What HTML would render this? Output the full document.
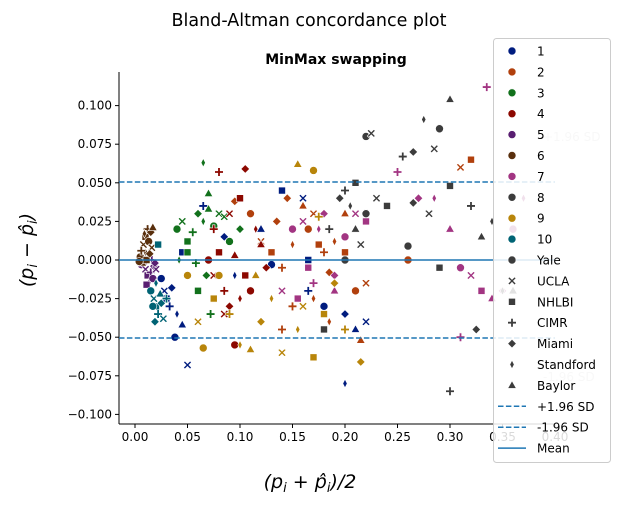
<!DOCTYPE html>
<html><head><meta charset="utf-8"><style>
body{margin:0;background:#fff;font-family:"Liberation Sans","DejaVu Sans",sans-serif}
svg text{font-family:"DejaVu Sans","Liberation Sans",sans-serif}
</style></head><body>
<svg id="c" width="618" height="500" xmlns="http://www.w3.org/2000/svg">
<text x="309" y="26" font-size="17.5" text-anchor="middle">Bland-Altman concordance plot</text>
<text x="336" y="64" font-size="14" font-weight="bold" text-anchor="middle">MinMax swapping</text>
<text transform="translate(33,250) rotate(-90)" font-size="19" text-anchor="middle" font-style="italic">(p<tspan font-size="13" dy="4">i</tspan><tspan dy="-4"> − p̂</tspan><tspan font-size="13" dy="4">i</tspan><tspan dy="-4">)</tspan></text>
<text x="310" y="488" font-size="19" text-anchor="middle" font-style="italic">(p<tspan font-size="13" dy="4">i</tspan><tspan dy="-4"> + p̂</tspan><tspan font-size="13" dy="4">i</tspan><tspan dy="-4">)/2</tspan></text>
<g id="plot"></g>
<g id="legend"></g>
</svg>
<script>
const groups=['1','2','3','4','5','6','7','8','9','10'];
const colors=['#001c7f','#b1400d','#12711c','#8c0800','#591e71','#592f0d','#a23582','#3c3c3c','#b8850a','#006374'];
const sites=['Yale','UCLA','NHLBI','CIMR','Miami','Standford','Baylor'];
const upperSD=0.0505, lowerSD=-0.0505, meanDiff=0.0;
const xTicks=[0,0.05,0.1,0.15,0.2,0.25,0.3,0.35,0.4];
const xTickLabels=['0.00','0.05','0.10','0.15','0.20','0.25','0.30','0.35','0.40'];
const yTicks=[0.1,0.075,0.05,0.025,0,-0.025,-0.05,-0.075,-0.1];
const yTickLabels=['0.100','0.075','0.050','0.025','0.000','−0.025','−0.050','−0.075','−0.100'];
const g1=[[0.025,-0.012],[0.028,-0.02],[0.03,-0.025],[0.033,-0.03],[0.035,-0.018],[0.04,-0.035],[0.045,-0.042],[0.038,-0.05],[0.05,-0.068],[0.045,0.005],[0.065,0.035],[0.085,0.015],[0.095,-0.01],[0.12,0.02],[0.13,-0.003],[0.16,0.04],[0.165,0.0],[0.19,-0.015],[0.2,-0.035],[0.2,-0.08],[0.21,-0.045],[0.18,-0.03],[0.22,-0.04],[0.14,0.045],[0.165,-0.02]];
const g2=[[0.11,0.03],[0.12,0.012],[0.13,0.005],[0.14,-0.005],[0.135,0.025],[0.15,0.01],[0.16,0.035],[0.165,0.02],[0.17,0.03],[0.175,0.01],[0.18,0.005],[0.185,-0.008],[0.19,0.012],[0.2,0.03],[0.21,-0.02],[0.22,-0.015],[0.2,0.005],[0.15,-0.03],[0.145,0.04],[0.17,-0.025],[0.215,-0.052],[0.26,0.0],[0.31,0.06],[0.32,0.065],[0.14,-0.045],[0.095,0.038],[0.185,-0.04]];
const g3=[[0.04,0.02],[0.045,0.025],[0.05,0.012],[0.055,0.018],[0.06,0.03],[0.065,0.025],[0.07,0.033],[0.075,0.022],[0.08,0.03],[0.05,0.005],[0.058,-0.002],[0.068,-0.01],[0.065,0.063],[0.07,0.043],[0.09,0.012],[0.085,0.028],[0.06,-0.02],[0.072,-0.035],[0.1,0.02],[0.042,0.0]];
const g4=[[0.07,0.0],[0.075,-0.01],[0.08,0.005],[0.085,-0.02],[0.09,-0.03],[0.1,-0.025],[0.095,0.003],[0.11,-0.02],[0.09,0.03],[0.1,0.04],[0.08,0.057],[0.105,0.059],[0.115,0.02],[0.12,0.01],[0.095,-0.055],[0.085,-0.035],[0.105,-0.01],[0.075,0.02],[0.125,-0.005]];
const g5=[[0.006,-0.003],[0.01,-0.006],[0.012,-0.01],[0.015,-0.008],[0.018,-0.004],[0.014,-0.014],[0.008,-0.001],[0.017,-0.012],[0.02,-0.006],[0.011,-0.016],[0.016,0.0],[0.019,-0.002]];
const g6=[[0.005,0.002],[0.008,0.01],[0.01,0.015],[0.012,0.02],[0.015,0.018],[0.01,0.005],[0.007,-0.002],[0.013,0.012],[0.016,0.008],[0.011,0.0],[0.006,0.006],[0.014,0.004],[0.009,0.017],[0.017,0.021],[0.004,-0.001]];
const g7=[[0.15,0.02],[0.16,0.025],[0.165,-0.005],[0.17,-0.015],[0.18,0.03],[0.175,0.02],[0.19,-0.02],[0.2,0.015],[0.21,0.03],[0.22,0.025],[0.25,0.057],[0.27,0.04],[0.285,0.04],[0.3,0.02],[0.31,-0.005],[0.32,-0.01],[0.33,-0.02],[0.335,0.112],[0.35,-0.02],[0.37,0.04],[0.34,-0.025],[0.36,0.02],[0.14,-0.02],[0.155,-0.025],[0.31,-0.05],[0.19,-0.01]];
const g8=[[0.22,0.08],[0.225,0.082],[0.21,0.05],[0.2,0.045],[0.195,0.04],[0.205,0.035],[0.21,0.02],[0.22,0.03],[0.23,0.04],[0.24,0.035],[0.255,0.067],[0.265,0.07],[0.275,0.091],[0.3,0.104],[0.29,0.085],[0.285,0.072],[0.3,0.048],[0.32,0.035],[0.265,0.037],[0.34,0.025],[0.33,0.015],[0.26,0.009],[0.28,0.03],[0.29,-0.005],[0.3,-0.085],[0.325,-0.045],[0.35,-0.02],[0.36,-0.02],[0.2,0.0],[0.215,0.01],[0.18,-0.045],[0.185,0.02]];
const g9=[[0.05,-0.01],[0.06,-0.04],[0.075,-0.025],[0.09,-0.035],[0.12,-0.04],[0.13,-0.025],[0.155,0.062],[0.17,0.058],[0.16,-0.03],[0.18,-0.035],[0.2,-0.045],[0.215,-0.066],[0.1,-0.055],[0.11,-0.058],[0.065,-0.057],[0.14,-0.06],[0.17,-0.063],[0.175,0.028],[0.19,-0.015],[0.155,-0.045],[0.115,-0.01],[0.08,-0.01]];
const g10=[[0.015,-0.02],[0.018,-0.025],[0.02,-0.03],[0.022,-0.035],[0.025,-0.028],[0.02,-0.015],[0.024,-0.022],[0.017,-0.03],[0.027,-0.038],[0.022,0.01],[0.03,-0.025],[0.019,-0.04]];
const series=[g1,g2,g3,g4,g5,g6,g7,g8,g9,g10];

const NS='http://www.w3.org/2000/svg';
const L=119,R=555,T=72,B=424;
function xs(v){return 135+v*1050;}
function ys(v){return 260-v*1544;}
function mk(tag,at,parent){const e=document.createElementNS(NS,tag);for(const k in at)e.setAttribute(k,at[k]);parent.appendChild(e);return e;}
const shapes=[
 null,
 'M-4,-2.6L-2.6,-4L0,-1.4L2.6,-4L4,-2.6L1.4,0L4,2.6L2.6,4L0,1.4L-2.6,4L-4,2.6L-1.4,0Z',
 'M-3.5,-3.5H3.5V3.5H-3.5Z',
 'M-1.2,-4.3H1.2V-1.2H4.3V1.2H1.2V4.3H-1.2V1.2H-4.3V-1.2H-1.2Z',
 'M0,-4.3L4.3,0L0,4.3L-4.3,0Z',
 'M0,-4.3L2.2,0L0,4.3L-2.2,0Z',
 'M0,-4.6L4.3,3L-4.3,3Z'];
function marker(m,x,y,col,parent,name){
  let e;
  if(m===0)e=mk('circle',{cx:x,cy:y,r:4},parent);
  else e=mk('path',{d:shapes[m],transform:`translate(${x},${y})`},parent);
  e.setAttribute('fill',col);e.setAttribute('stroke','#fff');e.setAttribute('stroke-width','0.6');
  
  
  return e;
}
const plot=document.getElementById('plot');
const ax=mk('line',{x1:L,y1:T,x2:L,y2:B,stroke:'#000','stroke-width':1},plot);


const bx=mk('line',{x1:L,y1:B,x2:R,y2:B,stroke:'#000','stroke-width':1},plot);


xTicks.forEach((v,i)=>{const x=xs(v);mk('line',{x1:x,y1:B,x2:x,y2:B+4,stroke:'#000'},plot);
  const t=mk('text',{x:x,y:B+17,'font-size':12,'text-anchor':'middle'},plot);t.textContent=xTickLabels[i];
  
  });
yTicks.forEach((v,i)=>{const y=ys(v);mk('line',{x1:L-4,y1:y,x2:L,y2:y,stroke:'#000'},plot);
  const t=mk('text',{x:L-7,y:y+4,'font-size':12,'text-anchor':'end'},plot);t.textContent=yTickLabels[i];
  
  });
series.forEach((pts,gi)=>pts.forEach((p,i)=>marker(i%7,xs(p[0]),ys(p[1]),colors[gi],plot,'point-group-'+groups[gi])));
const ul=mk('line',{x1:L,x2:R,y1:ys(upperSD),y2:ys(upperSD),stroke:'#1f77b4','stroke-width':1.5,'stroke-dasharray':'5.5,2.4'},plot);


const ll=mk('line',{x1:L,x2:R,y1:ys(lowerSD),y2:ys(lowerSD),stroke:'#1f77b4','stroke-width':1.5,'stroke-dasharray':'5.5,2.4'},plot);


const ml=mk('line',{x1:L,x2:R,y1:ys(meanDiff),y2:ys(meanDiff),stroke:'#1f77b4','stroke-width':1.5},plot);


const ut=mk('text',{x:543,y:ys(upperSD)-41,'font-size':12,fill:'#ccc'},plot);ut.textContent='+1.96 SD';


const lt=mk('text',{x:543,y:ys(lowerSD)+43,'font-size':12,fill:'#ccc'},plot);lt.textContent='-1.96 SD';


const lg=document.getElementById('legend');
const box=mk('rect',{x:493.5,y:38.5,width:117,height:424,rx:3,fill:'#fff','fill-opacity':0.85,stroke:'#ccc'},lg);


let y=51;const dy=20.9;
groups.forEach((g,i)=>{marker(0,512,y,colors[i],lg,'legend-marker-'+g);
  const t=mk('text',{x:537,y:y+4.5,'font-size':12},lg);t.textContent=g;
  
  y+=dy;});
sites.forEach((s,i)=>{marker(i,512,y,'#3c3c3c',lg,'legend-marker-site');
  const t=mk('text',{x:537,y:y+4.5,'font-size':12},lg);t.textContent=s;
  
  y+=dy;});
[['+1.96 SD',true],['-1.96 SD',true],['Mean',false]].forEach(([s,d])=>{
  const at={x1:498,x2:526,y1:y,y2:y,stroke:'#1f77b4','stroke-width':1.5};if(d)at['stroke-dasharray']='5.5,2.4';
  mk('line',at,lg);
  const t=mk('text',{x:537,y:y+4.5,'font-size':12},lg);t.textContent=s;
  
  y+=dy;});
</script>
</body></html>
